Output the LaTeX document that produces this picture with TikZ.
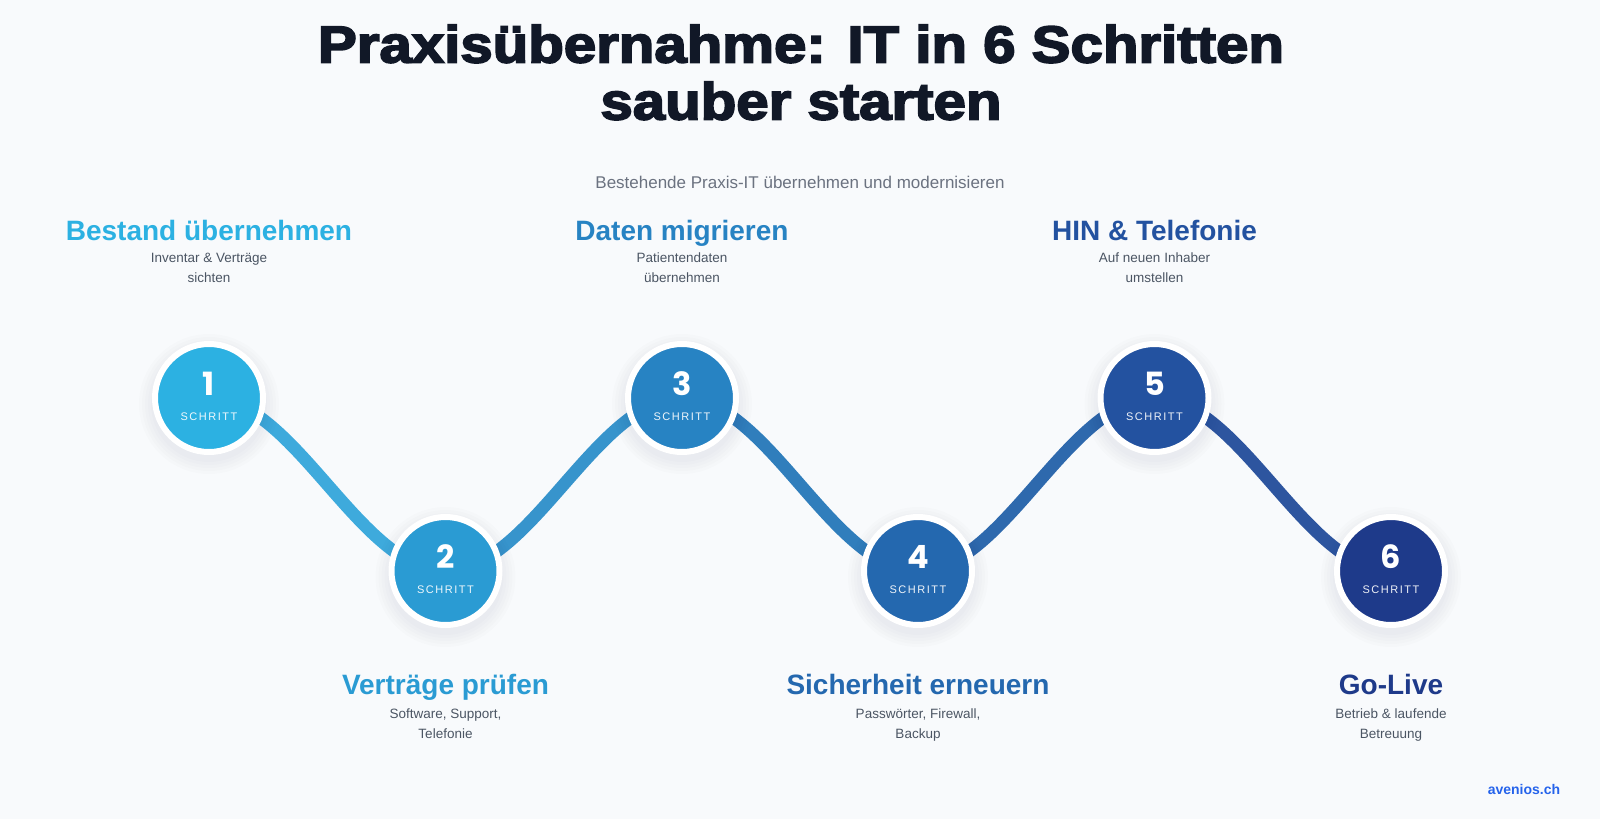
\documentclass[tikz,border=0pt]{standalone}
\usepackage{fontspec}
\setmainfont{Liberation Sans}
\newfontfamily\titlefont{Liberation Sans}[BoldFeatures={FakeBold=3.2}]
\newfontfamily\numfont{Poppins}
\newfontfamily\spfont{Liberation Sans}[LetterSpace=14]
\usetikzlibrary{calc,backgrounds}

\definecolor{bg}{HTML}{F8FAFC}
\definecolor{ink}{HTML}{111827}
\definecolor{desc}{HTML}{4B5563}
\definecolor{subc}{HTML}{6B7280}
\definecolor{link}{HTML}{2563EB}
\definecolor{c1}{HTML}{2CB1E2}
\definecolor{c2}{HTML}{2A9BD3}
\definecolor{c3}{HTML}{2783C3}
\definecolor{c4}{HTML}{2468AF}
\definecolor{c5}{HTML}{2352A0}
\definecolor{c6}{HTML}{1E3A8A}
\definecolor{w12}{HTML}{3EAADC}
\definecolor{w23}{HTML}{3794CC}
\definecolor{w34}{HTML}{307EBC}
\definecolor{w45}{HTML}{2E69AD}
\definecolor{w56}{HTML}{2D559F}

\newsavebox\tboxa
\newsavebox\tboxb
\sbox\tboxa{\color{ink}\titlefont\bfseries\fontsize{52}{53}\selectfont Praxisübernahme: IT in 6 Schritten}
\sbox\tboxb{\color{ink}\titlefont\bfseries\fontsize{52}{53}\selectfont sauber starten}
\pgfmathsetmacro\tsx{966/\the\wd\tboxa}

\tikzset{
  stepcirc/.style={circle, minimum size=108pt, inner sep=0pt, draw=white, line width=6pt},
  numtxt/.style={font=\numfont\bfseries\fontsize{32}{32}\selectfont, text=white, anchor=base, inner sep=0pt},
  schtxt/.style={font=\spfont\fontsize{11}{11}\selectfont, text=white, text opacity=0.92, anchor=base, inner sep=0pt},
  steptitle/.style={font=\bfseries\fontsize{28}{30}\selectfont, anchor=base, inner sep=0pt},
  desctxt/.style={font=\fontsize{13.5}{20}\selectfont, text=desc, anchor=base, inner sep=0pt},
  wave/.style={line width=12.5pt},
  titletxt/.style={text=ink, anchor=base, inner sep=0pt},
}

\begin{document}
\begin{tikzpicture}[x=1pt, y=-1pt]
\useasboundingbox (0,0) rectangle (1600,819);

% title
\node[titletxt] (title1) at (801,62.5) {\scalebox{\tsx}[1]{\usebox\tboxa}};
\node[titletxt] (title2) at (801,119.5) {\scalebox{\tsx}[1]{\usebox\tboxb}};
\node[font=\fontsize{17}{18}\selectfont, text=subc, anchor=base, inner sep=0pt] (sub) at (800,188) {Bestehende Praxis-IT übernehmen und modernisieren};

% step circles
\node[stepcirc, fill=c1] (s1) at (209,398) {};
\node[stepcirc, fill=c2] (s2) at (445.5,571) {};
\node[stepcirc, fill=c3] (s3) at (682,398) {};
\node[stepcirc, fill=c4] (s4) at (918,571) {};
\node[stepcirc, fill=c5] (s5) at (1154.5,398) {};
\node[stepcirc, fill=c6] (s6) at (1391,571) {};

\foreach \i in {1,...,6}{
  \node[numtxt] (n\i) at ($(s\i.center)+(0,-3)$) {\i};
  \node[schtxt] (k\i) at ($(s\i.center)+(0,22.5)$) {SCHRITT};
}

% connectors, shadows and background
\begin{scope}[on background layer]
  \fill[bg] (0,0) rectangle (1600,819);
  \draw[wave, draw=w12] (s1.center) .. controls ($(s1.center)+(85,0)$) and ($(s2.center)+(-85,0)$) .. (s2.center);
  \draw[wave, draw=w23] (s2.center) .. controls ($(s2.center)+(85,0)$) and ($(s3.center)+(-85,0)$) .. (s3.center);
  \draw[wave, draw=w34] (s3.center) .. controls ($(s3.center)+(85,0)$) and ($(s4.center)+(-85,0)$) .. (s4.center);
  \draw[wave, draw=w45] (s4.center) .. controls ($(s4.center)+(85,0)$) and ($(s5.center)+(-85,0)$) .. (s5.center);
  \draw[wave, draw=w56] (s5.center) .. controls ($(s5.center)+(85,0)$) and ($(s6.center)+(-85,0)$) .. (s6.center);
  \foreach \i in {1,...,6}{
    \foreach \r in {58,61,64,67,70}{
      \fill[black!70!blue, opacity=0.012] ($(s\i.center)+(0,6)$) circle (\r pt);
    }
  }
\end{scope}

% step titles and descriptions
\node[steptitle, text=c1] (t1) at (209,240) {Bestand übernehmen};
\node[desctxt] (d1a) at (209,262.7) {Inventar \& Verträge};
\node[desctxt] (d1b) at (209,282.3) {sichten};

\node[steptitle, text=c2] (t2) at (445.5,694) {Verträge prüfen};
\node[desctxt] (d2a) at (445.5,718) {Software, Support,};
\node[desctxt] (d2b) at (445.5,738) {Telefonie};

\node[steptitle, text=c3] (t3) at (682,240) {Daten migrieren};
\node[desctxt] (d3a) at (682,262.7) {Patientendaten};
\node[desctxt] (d3b) at (682,282.3) {übernehmen};

\node[steptitle, text=c4] (t4) at (918,694) {Sicherheit erneuern};
\node[desctxt] (d4a) at (918,718) {Passwörter, Firewall,};
\node[desctxt] (d4b) at (918,738) {Backup};

\node[steptitle, text=c5] (t5) at (1154.5,240) {HIN \& Telefonie};
\node[desctxt] (d5a) at (1154.5,262.7) {Auf neuen Inhaber};
\node[desctxt] (d5b) at (1154.5,282.3) {umstellen};

\node[steptitle, text=c6] (t6) at (1391,694) {Go-Live};
\node[desctxt] (d6a) at (1391,718) {Betrieb \& laufende};
\node[desctxt] (d6b) at (1391,738) {Betreuung};

\node[font=\bfseries\fontsize{14}{14}\selectfont, text=link, anchor=base, inner sep=0pt] (brand) at (1524,794) {avenios.ch};
\end{tikzpicture}
\end{document}
